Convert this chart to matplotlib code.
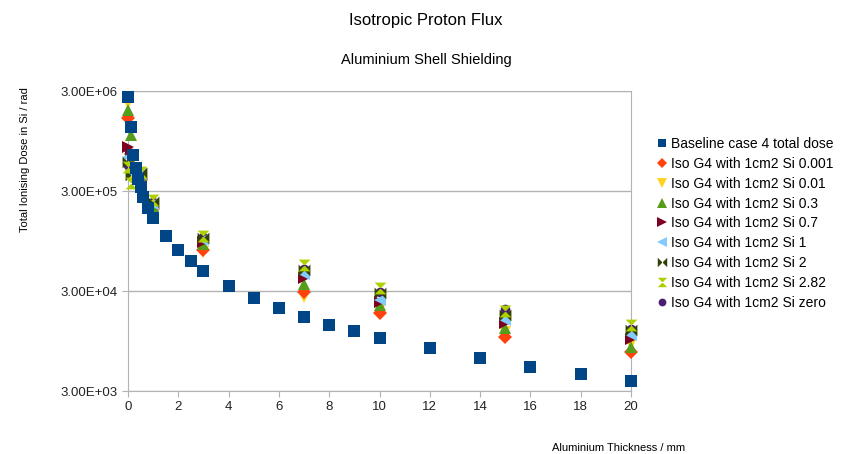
import matplotlib.pyplot as plt
from matplotlib.path import Path
from matplotlib.ticker import FixedLocator, NullLocator, FuncFormatter

plt.rcParams['font.family'] = ['Liberation Sans', 'DejaVu Sans']

# Baseline case (blue squares)
base_thick = [0, 0.1, 0.2, 0.3, 0.4, 0.5, 0.6, 0.8, 1, 1.5, 2, 2.5, 3, 4, 5,
              6, 7, 8, 9, 10, 12, 14, 16, 18, 20]
base_dose = [2.63e6, 1.32e6, 6.9e5, 5.1e5, 4.0e5, 3.3e5, 2.63e5, 2.01e5,
             1.6e5, 1.07e5, 7.8e4, 6.0e4, 4.75e4, 3.36e4, 2.55e4, 2.03e4,
             1.65e4, 1.37e4, 1.19e4, 1.02e4, 8.1e3, 6.4e3, 5.2e3, 4.4e3, 3.8e3]

# Iso G4 runs, all at the same thicknesses
g4_thick = [0, 0.1, 0.5, 1, 3, 7, 10, 15, 20]
si_0001 = [1.6e6, 7.0e5, 3.9e5, 2.0e5, 7.7e4, 2.93e4, 1.81e4, 1.04e4, 7.4e3]
si_001 = [2.3e6, 4.2e5, 4.4e5, 2.1e5, 7.4e4, 2.6e4, 1.98e4, 1.17e4, 8.9e3]
si_03 = [1.95e6, 1.1e6, 4.2e5, 2.13e5, 8.9e4, 3.5e4, 2.17e4, 1.28e4, 8.3e3]
si_07 = [8.3e5, 7.2e5, 4.3e5, 2.18e5, 9.3e4, 4.05e4, 2.33e4, 1.44e4, 9.9e3]
si_1 = [6.5e5, 4.5e5, 4.4e5, 2.23e5, 9.7e4, 4.4e4, 2.44e4, 1.54e4, 1.09e4]
si_2 = [5.8e5, 4.3e5, 4.5e5, 2.33e5, 1.02e5, 4.87e4, 2.87e4, 1.73e4, 1.22e4]
si_282 = [5.2e5, 3.6e5, 4.6e5, 2.44e5, 1.06e5, 5.46e4, 3.2e4, 1.89e4, 1.37e4]
si_zero = [5.5e5, 4.3e5, 4.5e5, 2.35e5, 1.03e5, 5.0e4, 2.9e4, 1.98e4, 1.25e4]

labels = ['Iso G4 with 1cm2 Si 0.001', 'Iso G4 with 1cm2 Si 0.01',
          'Iso G4 with 1cm2 Si 0.3', 'Iso G4 with 1cm2 Si 0.7',
          'Iso G4 with 1cm2 Si 1', 'Iso G4 with 1cm2 Si 2',
          'Iso G4 with 1cm2 Si 2.82', 'Iso G4 with 1cm2 Si zero']
series = [si_0001, si_001, si_03, si_07, si_1, si_2, si_282, si_zero]

# bowtie and hourglass shapes like the office chart symbols
bowtie = Path([(-1, 1), (0, 0), (-1, -1), (-1, 1), (1, 1), (0, 0), (1, -1), (1, 1)],
              [1, 2, 2, 79, 1, 2, 2, 79])
hourglass = Path([(-1, 1), (1, 1), (0, 0), (-1, 1), (-1, -1), (1, -1), (0, 0), (-1, -1)],
                 [1, 2, 2, 79, 1, 2, 2, 79])

colors = ['#ff420e', '#ffd320', '#579d1c', '#7e0021', '#83caff', '#314004',
          '#aecf00', '#4b1f6f']
markers = ['D', 'v', '^', '>', '<', bowtie, hourglass, 'o']
sizes = [7, 9, 9, 9, 9, 8.5, 8.5, 7]
orders = [3.15, 3.1, 3.2, 3.3, 3.4, 3.5, 3.6, 2]

fig = plt.figure(figsize=(8.49, 4.54), dpi=100)
ax = fig.add_axes([128 / 849, 1 - 391 / 454, 503 / 849, 300 / 454])

ax.plot(base_thick, base_dose, 's', color='#004586', markersize=8,
        markeredgewidth=0, label='Baseline case 4 total dose', zorder=5,
        clip_on=False)
for vals, lab, c, m, s, z in zip(series, labels, colors, markers, sizes, orders):
    ax.plot(g4_thick, vals, linestyle='none', marker=m, color=c, markersize=s,
            markeredgewidth=0, label=lab, zorder=z, clip_on=False)

ax.set_yscale('log')
ax.set_ylim(3e3, 3e6)
ax.set_xlim(0, 20)
ax.yaxis.set_major_locator(FixedLocator([3e3, 3e4, 3e5, 3e6]))
ax.yaxis.set_minor_locator(NullLocator())
ax.yaxis.set_major_formatter(FuncFormatter(lambda v, p: '%.2E' % v))
ax.set_xticks(range(0, 21, 2))
ax.grid(axis='y', color='#b3b3b3', linewidth=1)
ax.set_axisbelow(True)
for sp in ax.spines.values():
    sp.set_color('#b3b3b3')
ax.tick_params(colors='#b3b3b3', labelcolor='#222222', labelsize=9.5,
               direction='out', length=4)

fig.text(426 / 849, 1 - 20 / 454, 'Isotropic Proton Flux', ha='center',
         va='center', fontsize=12)
fig.text(426 / 849, 1 - 60 / 454, 'Aluminium Shell Shielding', ha='center',
         va='center', fontsize=10.5)
fig.text(619 / 849, 1 - 448 / 454, 'Aluminium Thickness / mm', ha='center',
         va='center', fontsize=8)
fig.text(25 / 849, 1 - 160 / 454, 'Total Ionising Dose in Si / rad',
         ha='center', va='center', rotation=90, fontsize=8)

fig.legend(loc='upper left', bbox_to_anchor=(657 / 849, 1 - 137 / 454),
           frameon=False, fontsize=10, handlelength=0.7, handletextpad=0.3,
           labelspacing=0.42, borderpad=0, borderaxespad=0, markerscale=0.8)

fig.savefig('out.png', dpi=100)
